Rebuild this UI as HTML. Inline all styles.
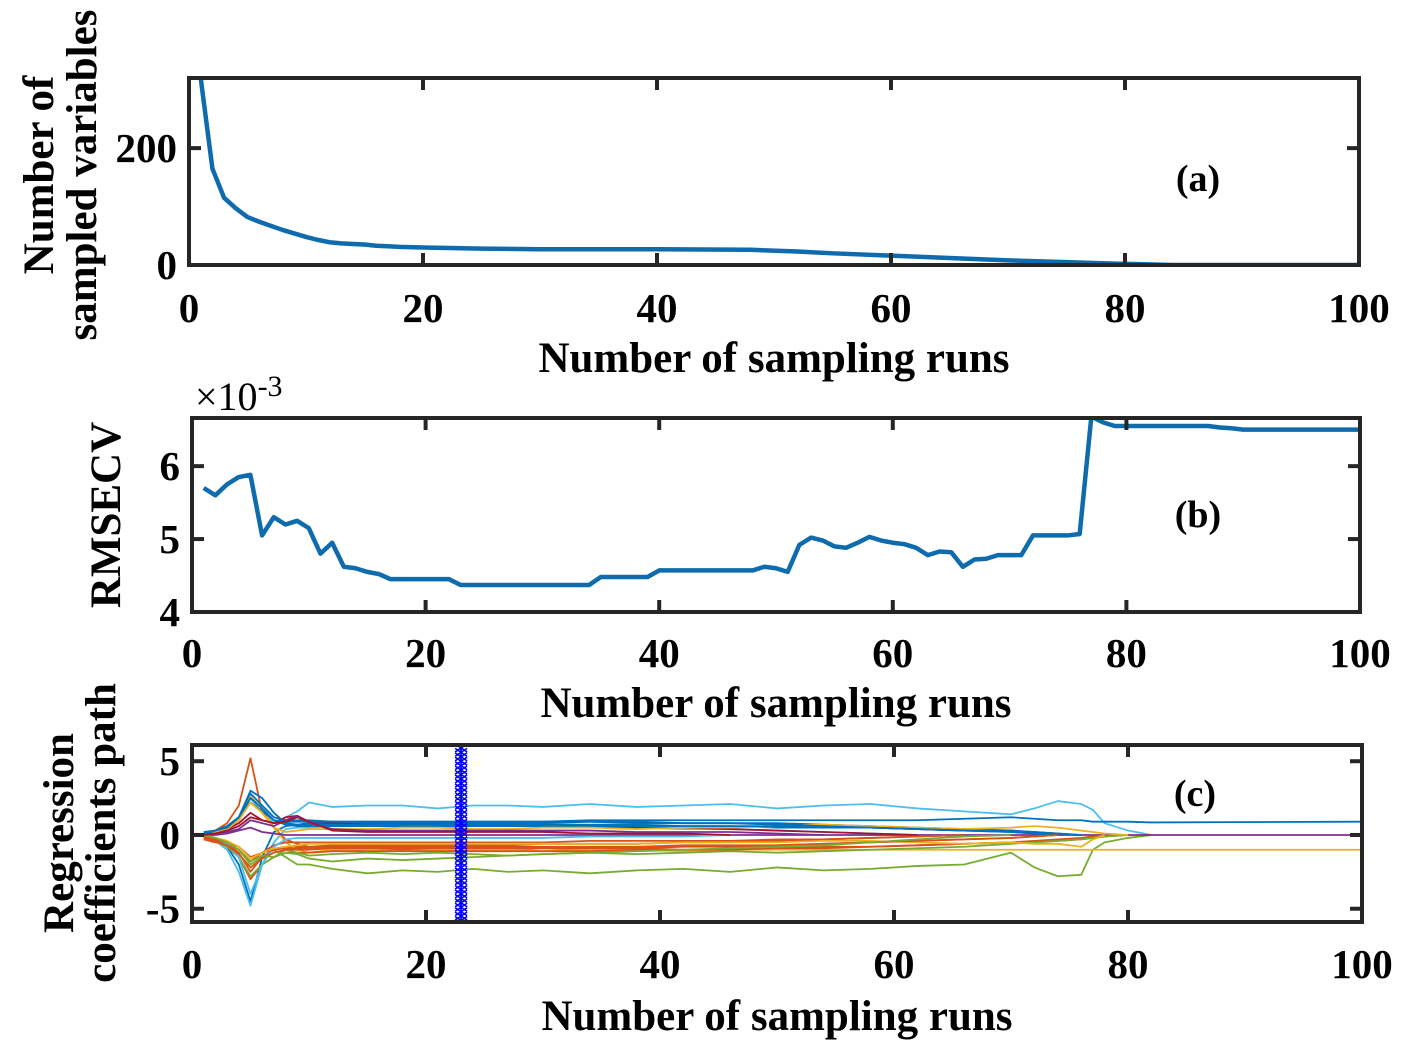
<!DOCTYPE html>
<html><head><meta charset="utf-8"><style>
html,body{margin:0;padding:0;background:#fff;}
svg{display:block;font-family:"Liberation Serif",serif;font-weight:bold;}
</style></head><body>
<svg id="fig" width="1408" height="1046" viewBox="0 0 1408 1046" xmlns="http://www.w3.org/2000/svg"></svg>
<script>
// Panel (a) data
const aRuns=[1,2,3,4,5,6,7,8,9,10,11,12,13,14,15,16,17,18,20,25,30,40,48,52,55,60,65,70,75,78,80,84,90,100];
const aVals=[320,165,115,97,82,74,67,60,54,48,43,39,37,36,35,33,32,31,30,28,27,27,26,23,20,16,12,8,5,3,2,0,0,0];
// Panel (b) data (x1e-3)
const bRuns=[];for(let i=1;i<=100;i++)bRuns.push(i);
const bVals=[5.7,5.6,5.75,5.85,5.88,5.05,5.3,5.2,5.25,5.15,4.8,4.95,4.62,4.6,4.55,4.52,4.45,4.45,4.45,4.45,4.45,4.45,4.37,4.37,4.37,4.37,4.37,4.37,4.37,4.37,4.37,4.37,4.37,4.37,4.48,4.48,4.48,4.48,4.48,4.57,4.57,4.57,4.57,4.57,4.57,4.57,4.57,4.57,4.62,4.6,4.55,4.92,5.02,4.98,4.9,4.88,4.95,5.03,4.98,4.95,4.93,4.88,4.78,4.83,4.82,4.62,4.72,4.73,4.78,4.78,4.78,5.05,5.05,5.05,5.05,5.07,6.68,6.6,6.55,6.55,6.55,6.55,6.55,6.55,6.55,6.55,6.55,6.53,6.52,6.5,6.5,6.5,6.5,6.5,6.5,6.5,6.5,6.5,6.5,6.5];
// Panel (c) data: values at key runs
const cKeys=[1,2,3,4,5,6,7,8,9,10,12,15,18,21,24,27,30,34,38,42,46,50,54,58,62,66,70,72,74,76,77,78,80,82,100];
const cColors=["#4DBEEE","#77AC30","#D95319","#0072BD","#4DBEEE","#0072BD","#D95319","#EDB120","#7E2F8E","#A2142F","#D95319","#0072BD","#77AC30","#EDB120","#D95319","#0072BD","#4DBEEE","#D95319","#7E2F8E","#EDB120","#0072BD","#D95319","#77AC30","#A2142F"];
const cSeries=[
[0,0.2,0.5,1,2.5,1.5,0.8,1.2,1.6,2.2,1.9,2,2,1.8,2,2,1.9,2.1,1.9,2,2.1,1.8,2,2.1,1.8,1.6,1.4,1.8,2.3,2.1,1.7,0.8,0.3,0],
[0,-0.2,-0.5,-1,-2,-1.5,-1,-1.5,-2,-2,-2.3,-2.6,-2.4,-2.5,-2.3,-2.5,-2.4,-2.6,-2.4,-2.3,-2.5,-2.2,-2.4,-2.3,-2.1,-2,-1.2,-2.2,-2.8,-2.7,-1,-0.5,-0.2,0],
[0,0.3,0.8,2,5.2,1.5,0.5,-0.3,-0.6,-0.8,-0.9,-0.9,-1,-0.9,-1,-1,-0.9,-1,-0.9,-1,-1,-0.9,-0.8,-0.8,-0.7,-0.6,-0.5,-0.5,-0.4,-0.3,-0.2,-0.1,0],
[0,-0.3,-0.8,-2,-4.5,-1.5,0.2,0.6,0.7,0.8,0.8,0.8,0.8,0.8,0.8,0.8,0.8,0.9,0.9,0.8,0.8,0.8,0.7,0.6,0.5,0.4,0.3,0.2,0.1,0],
[0,-0.4,-1,-2.5,-4.8,-2,-0.5,0.4,0.5,0.5,0.6,0.6,0.6,0.5,0.6,0.6,0.6,0.5,0.5,0.4,0.4,0.3,0.2,0.1,0],
[0.2,0.3,0.5,1.2,2.8,2,1.2,1,1,1,0.9,0.9,0.9,0.9,0.9,0.9,0.9,1,1,1,1,1,1,1,1,1.1,1.2,1.1,1,1,0.9,0.9,0.9,0.85,0.9],
[0,-0.3,-0.6,-1.2,-2.5,-1.5,-1,-0.8,-0.8,-0.8,-0.7,-0.7,-0.7,-0.7,-0.7,-0.7,-0.6,-0.6,-0.6,-0.5,-0.5,-0.4,-0.3,-0.2,-0.1,0],
[0,0.2,0.5,1,2.6,1.8,0.5,-0.5,-1,-1.2,-1,-1,-1.1,-1,-1,-1,-1.1,-1,-1,-1.1,-1,-1,-1,-1,-1,-1,-1,-1,-1,-1,-1,-1,-1,-1,-1],
[0,0,0.1,0.3,0.5,0.2,0.1,0,0,0,0,0,0,0,0,0,0,0,0,0,0,0,0,0,0,0,0,0,0,0,0,0,0,0,0],
[0,0.2,0.4,0.8,1.5,1,0.8,1.2,1.3,0.9,0.8,0.7,0.7,0.7,0.7,0.6,0.6,0.6,0.5,0.5,0.4,0.3,0.2,0.1,0],
[-0.2,-0.4,-0.8,-1.5,-3,-2,-1.5,-1.2,-1.2,-1.2,-1.1,-1.1,-1.1,-1.1,-1.1,-1.1,-1.1,-1.1,-1,-1,-1,-0.9,-0.9,-0.8,-0.7,-0.6,-0.5,-0.4,-0.3,-0.2,-0.1,0],
[0,0.3,0.6,1.2,2.2,1.6,1,0.7,0.6,0.6,0.6,0.6,0.6,0.6,0.6,0.6,0.6,0.6,0.6,0.6,0.6,0.5,0.5,0.5,0.4,0.3,0.3,0.2,0.1,0],
[0,-0.3,-0.8,-1.5,-2.8,-2,-1.5,-1,-1.2,-1.4,-1.3,-1.2,-1.3,-1.2,-1.3,-1.4,-1.3,-1.2,-1.3,-1.2,-1.1,-1.2,-1.1,-1,-0.9,-0.8,-0.6,-0.5,-0.4,-0.3,-0.2,-0.1,0],
[0,0.2,0.4,1,2.2,1.5,0.5,0.2,0.3,0.4,0.4,0.4,0.5,0.5,0.4,0.4,0.5,0.5,0.4,0.5,0.5,0.6,0.7,0.6,0.5,0.4,0.5,0.6,0.5,0.3,0.2,0.1,0],
[-0.3,-0.5,-0.6,-1,-1.8,-1.2,-0.7,-0.5,-0.5,-0.5,-0.5,-0.5,-0.5,-0.5,-0.5,-0.5,-0.5,-0.4,-0.4,-0.4,-0.4,-0.3,-0.3,-0.2,-0.1,0],
[0,0.3,0.5,1.2,3,2.5,1.5,0.8,0.7,0.7,0.7,0.7,0.7,0.7,0.7,0.7,0.7,0.7,0.7,0.6,0.6,0.6,0.5,0.5,0.4,0.3,0.2,0.1,0],
[0,-0.3,-0.6,-1.5,-4,-2,-0.8,-0.3,-0.2,-0.2,-0.2,-0.2,-0.2,-0.2,-0.2,-0.2,-0.2,-0.1,-0.1,-0.1,0],
[-0.1,-0.3,-0.5,-0.8,-1.5,-1.2,-1,-0.9,-0.9,-0.9,-0.8,-0.8,-0.8,-0.8,-0.8,-0.8,-0.8,-0.8,-0.8,-0.7,-0.7,-0.7,-0.6,-0.5,-0.4,-0.3,-0.2,-0.1,0],
[0,0.1,0.2,0.4,1,0.8,0.6,1,1.3,0.8,0.4,0.3,0.3,0.3,0.3,0.3,0.3,0.3,0.2,0.2,0.2,0.1,0],
[0,-0.2,-0.4,-0.8,-1.6,-1.2,-0.9,-0.8,-0.7,-0.6,-0.6,-0.6,-0.6,-0.6,-0.6,-0.6,-0.6,-0.6,-0.6,-0.5,-0.5,-0.5,-0.4,-0.4,-0.5,-0.6,-0.5,-0.6,-0.6,-0.8,-0.3,0],
[0.1,0.3,0.6,1.2,2.5,1.8,1,0.9,0.9,0.9,0.9,0.9,0.9,0.9,0.9,0.9,0.9,0.9,0.8,0.8,0.8,0.7,0.6,0.5,0.4,0.3,0.2,0.1,0],
[-0.2,-0.4,-0.7,-1.3,-2.2,-1.6,-1.2,-1,-1,-1,-0.9,-0.9,-0.9,-0.9,-0.9,-0.9,-0.9,-0.9,-0.9,-0.8,-0.8,-0.7,-0.6,-0.5,-0.4,-0.3,-0.2,-0.1,0],
[0,-0.2,-0.5,-1,-1.8,-1.4,-1.5,-1.2,-1.3,-1.6,-1.8,-1.6,-1.7,-1.6,-1.5,-1.4,-1.3,-1.2,-1.1,-1,-0.9,-0.8,-0.7,-0.5,-0.3,-0.1,0],
[0,0.1,0.3,0.6,1.2,1,0.8,0.9,1.2,0.9,0.3,0.2,0.2,0.2,0.2,0.2,0.2,0.1,0.1,0.1,0]
];
const xTicks=[0,20,40,60,80,100];
const aYTicks=[0,200], bYTicks=[4,5,6], cYTicks=[-5,0,5];
const cMarkerRun=23;

const NS="http://www.w3.org/2000/svg";
const svg=document.getElementById('fig');
function el(tag,attrs,parent){const e=document.createElementNS(NS,tag);for(const k in attrs)e.setAttribute(k,attrs[k]);(parent||svg).appendChild(e);return e;}
function txt(s,x,y,size,anchor,parent,rot){const t=el('text',{x:x,y:y,'font-size':size,'text-anchor':anchor||'middle',fill:'#000'},parent);if(rot)t.setAttribute('transform',`rotate(-90 ${x} ${y})`);t.textContent=s;return t;}

const TICK=41, TITLE=43;
function panel(name,L,R,T,B,xmin,xmax,ymin,ymax,yTicks,xLabelY,tickLabY){
  const g=el('g',{});
  
  
  const sx=v=>L+(v-xmin)/(xmax-xmin)*(R-L);
  const sy=v=>B-(v-ymin)/(ymax-ymin)*(B-T);
  const clip=el('clipPath',{id:name+'-clip'},g);
  el('rect',{x:L,y:T,width:R-L,height:B-T},clip);
  const plot=el('g',{'clip-path':`url(#${name}-clip)`},g);
  return {g,sx,sy,plot,draw(){
    for(const t of xTicks){const x=sx(t);
      el('line',{x1:x,x2:x,y1:B,y2:B-12,stroke:'#262626','stroke-width':4},g);
      el('line',{x1:x,x2:x,y1:T,y2:T+12,stroke:'#262626','stroke-width':4},g);
      const l=txt(String(t),x,tickLabY,TICK,'middle',g);
      
      }
    for(const t of yTicks){const y=sy(t);
      el('line',{x1:L,x2:L+12,y1:y,y2:y,stroke:'#262626','stroke-width':4},g);
      el('line',{x1:R,x2:R-12,y1:y,y2:y,stroke:'#262626','stroke-width':4},g);
      const l=txt(String(t),L-12,y+14,TICK,'end',g);
      
      }
    const box=el('rect',{x:L,y:T,width:R-L,height:B-T,fill:'none',stroke:'#262626','stroke-width':4},g);
    
    
    const xl=txt('Number of sampling runs',(L+R)/2,xLabelY,TITLE,'middle',g);
    
    
  }};
}

// Panel a
const A=panel('panel-a',189,1359,78,265,0,100,0,320,aYTicks,372,322);
{let d='';aRuns.forEach((r,i)=>{d+=(i?'L':'M')+A.sx(r)+' '+A.sy(aVals[i]);});
 const p=el('path',{d,fill:'none',stroke:'#0E6BAE','stroke-width':4.5,'stroke-linejoin':'round'},A.plot);
 
 }
A.draw();
let t=txt('(a)',1198,191,38,'middle');
t=txt('Number of',53,175,TITLE,'middle',svg,true);
t=txt('sampled variables',96,175,TITLE,'middle',svg,true);

// Panel b
const Bp=panel('panel-b',192,1360,418,612,0,100,4,6.66,bYTicks,717,667);
{let d='';bRuns.forEach((r,i)=>{d+=(i?'L':'M')+Bp.sx(r)+' '+Bp.sy(bVals[i]);});
 const p=el('path',{d,fill:'none',stroke:'#0E6BAE','stroke-width':4.5,'stroke-linejoin':'round'},Bp.plot);
 
 }
Bp.draw();
t=txt('(b)',1198,527,38,'middle');
t=txt('RMSECV',120,515,TITLE,'middle',svg,true);
{const e=el('text',{x:195,y:410,'font-size':40,'font-weight':'normal',fill:'#000'});
 
 
 e.innerHTML='×10<tspan dy="-14" font-size="30">-3</tspan>';}

// Panel c
const C=panel('panel-c',192,1362,745,922,0,100,-5.9,6.1,cYTicks,1030,978);
cSeries.forEach((s,si)=>{let d='';s.forEach((v,i)=>{if(v===null||i>=cKeys.length)return;d+=(d?'L':'M')+C.sx(cKeys[i])+' '+C.sy(v);});
  const p=el('path',{d,fill:'none',stroke:cColors[si%cColors.length],'stroke-width':1.8,'stroke-linejoin':'round'},C.plot);
  
  });
{const mg=el('g',{stroke:'#0000FF','stroke-width':1.6},C.plot);
 
 
 const x=C.sx(cMarkerRun);
 for(let v=-5.8;v<=6;v+=0.3){const y=C.sy(v);
  el('line',{x1:x-6,x2:x+6,y1:y-4,y2:y+4},mg);el('line',{x1:x-6,x2:x+6,y1:y+4,y2:y-4},mg);el('line',{x1:x,x2:x,y1:y-6,y2:y+6},mg);}}
C.draw();
t=txt('(c)',1195,806,38,'middle');
t=txt('Regression',73,833,TITLE,'middle',svg,true);
t=txt('coefficients path',115,833,TITLE,'middle',svg,true);
</script>
</body></html>
